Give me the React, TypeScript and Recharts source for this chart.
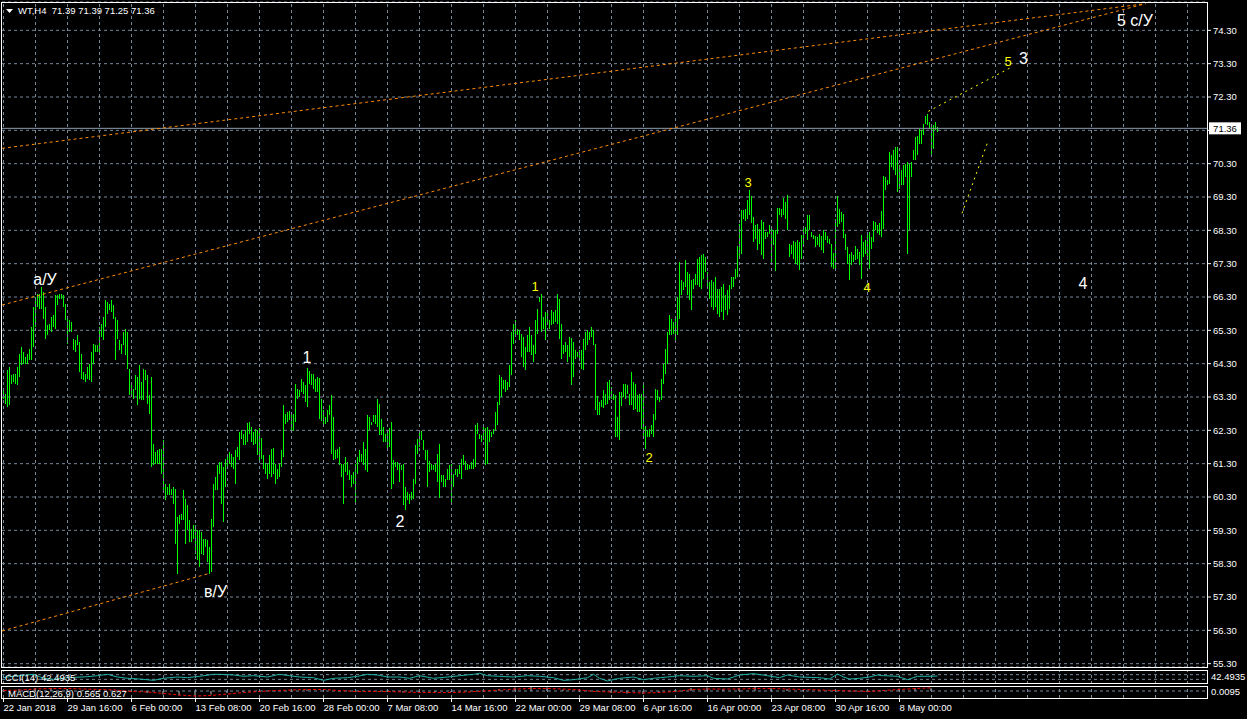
import React from 'react';
import { ComposedChart, Bar, Line, Scatter, XAxis, YAxis, CartesianGrid, ReferenceLine } from 'recharts';

const FONT = '"Liberation Sans", Arial, sans-serif';
const GRID = '#778899';
const BAR = '#00ff00';

// H4 bar highs and lows, one entry per bar
const highs = [
  63.55, 63.40, 64.10, 64.20, 63.95, 64.00, 64.00, 64.20, 64.60, 64.80,
  64.65, 64.50, 64.60, 64.75, 65.40, 66.00, 66.30, 66.40, 66.40, 66.60,
  66.45, 66.00, 65.45, 65.50, 65.70, 65.75, 66.35, 66.35, 66.40, 66.40,
  66.35, 66.10, 65.65, 65.60, 65.55, 65.05, 65.00, 65.15, 64.95, 64.60,
  64.05, 64.00, 64.20, 64.30, 64.65, 64.90, 64.85, 64.85, 65.40, 65.50,
  65.70, 66.20, 66.15, 66.10, 66.20, 66.05, 65.70, 65.60, 65.00, 64.90,
  65.25, 65.35, 65.25, 64.15, 63.65, 63.55, 63.95, 63.90, 64.25, 63.75,
  64.15, 64.10, 63.95, 63.35, 63.90, 61.90, 61.65, 61.70, 61.75, 61.75,
  62.00, 60.70, 60.60, 60.70, 60.55, 60.60, 60.55, 59.70, 59.75, 59.80,
  60.50, 60.25, 60.05, 59.60, 59.35, 59.45, 59.45, 59.30, 59.30, 59.25,
  59.05, 59.05, 59.00, 58.80, 59.65, 60.70, 60.90, 61.25, 61.35, 61.35,
  61.20, 61.45, 61.60, 61.65, 61.60, 61.50, 61.70, 61.80, 62.25,
  62.32, 62.20, 62.30, 62.52, 62.55, 62.40, 62.25, 62.35, 62.30, 62.38,
  62.08, 61.55, 61.32, 61.30, 61.55, 61.75, 61.78, 61.30, 61.15, 61.30,
  61.70, 63.05, 62.80, 62.85, 62.88, 62.80, 62.78, 63.68, 63.55, 63.52,
  63.85, 63.75, 63.65, 64.18, 64.08, 64.00, 63.98, 63.85, 63.90, 63.88,
  63.25, 62.90, 62.70, 62.90, 63.05, 63.35, 62.70, 61.72, 61.75, 61.80,
  61.30, 61.30, 61.50, 61.35, 61.10, 60.95, 61.05, 61.30, 61.50, 61.70,
  61.60, 61.95, 61.75, 62.75, 62.70, 62.55, 62.75, 62.75, 63.25, 63.08,
  62.65, 62.40, 62.20, 62.30, 62.38, 62.55, 61.40, 61.35, 61.35, 61.30,
  61.25, 61.30, 60.60, 60.45, 60.40, 60.45, 60.85, 61.85, 62.05, 62.25,
  62.28, 62.00, 61.70, 61.70, 61.38, 61.30, 61.25, 61.30, 61.58, 61.90,
  60.95, 60.95, 60.85, 61.15, 61.25, 61.28, 61.00, 61.15, 61.15, 61.25,
  61.45, 61.55, 61.38, 61.30, 61.25,
  61.35, 61.45, 62.45, 62.52, 62.20, 62.15, 62.40, 62.38, 62.40, 62.32,
  62.25, 62.35, 62.85, 63.15, 63.95, 63.90, 63.80, 63.80, 63.75, 64.25,
  65.25, 65.50, 65.60, 65.35, 65.30, 65.20, 65.10, 64.80, 65.15, 65.40,
  65.15, 64.85, 65.60, 65.95, 66.30, 66.38, 65.70, 65.85, 65.85, 65.60,
  65.90, 65.85, 65.90, 66.38, 66.25, 65.48, 64.85, 64.95, 64.85, 65.10,
  65.08, 64.95, 64.70, 64.65, 64.70, 64.70, 65.05, 65.25, 65.30, 65.25,
  65.40, 65.30, 64.88, 63.32, 63.15, 63.22, 63.52, 63.40, 63.75, 63.80,
  63.60, 63.38, 63.35, 62.70, 63.45, 63.45, 63.70, 63.70, 63.65, 63.40,
  64.05, 63.75, 63.70, 63.35, 63.38, 63.40, 63.65, 62.42, 62.30, 62.35,
  62.45, 62.80, 63.55, 63.52, 63.30, 63.85, 64.30, 64.75, 65.25, 65.75,
  65.65, 65.55, 65.65, 66.30, 67.35, 66.80, 66.75, 67.40, 67.05, 67.00,
  66.80, 66.85, 67.00, 67.45, 67.50,
  67.55, 67.58, 67.50, 67.05, 66.75, 66.80, 66.75, 66.90, 66.55, 66.55,
  66.60, 66.70, 66.35, 66.50, 66.65, 66.90, 66.90, 67.15, 67.82, 68.48,
  68.90, 68.90, 68.95, 69.22, 69.52, 69.32, 68.70, 68.45, 68.48, 68.35,
  68.62, 68.55, 68.25, 68.25, 68.45, 68.40, 68.30, 68.30, 68.98, 68.98,
  68.95, 69.28, 69.15, 69.35, 67.90, 67.85, 67.98, 67.95, 68.00, 67.95,
  68.15, 68.42, 68.40, 68.75, 68.75, 68.25, 68.15, 68.12, 68.10, 68.20,
  68.12, 68.32, 68.25, 68.12, 68.05, 67.90, 67.62, 68.65, 69.32, 68.95,
  68.85, 68.80, 68.18, 67.80, 67.60, 67.65, 67.55, 67.82, 67.75, 67.65,
  68.15, 67.95, 68.00, 68.20, 68.25, 68.10, 68.58, 68.55, 68.45, 68.52,
  68.88, 69.92, 69.90, 69.82, 70.65, 70.55, 70.72, 70.80, 70.80, 70.25,
  70.10, 70.25, 70.30, 70.35, 70.30, 70.35, 70.70, 71.10, 71.12, 71.35,
  71.30, 71.50, 71.72, 71.80, 71.55, 71.50, 71.45, 71.55, 71.39,
];

const lows = [
  63.25, 63.10, 63.00, 63.05, 63.70, 63.75, 63.70, 63.65, 63.90, 64.25,
  64.30, 64.30, 64.30, 64.40, 64.40, 64.80, 65.40, 66.00, 65.95, 65.95,
  65.65, 65.05, 65.15, 65.30, 65.25, 65.40, 65.35, 66.05, 66.25, 66.25,
  66.00, 65.60, 64.90, 65.25, 65.25, 64.70, 64.65, 64.85, 64.05, 63.85,
  63.80, 63.75, 63.85, 63.80, 63.75, 64.30, 64.65, 64.65, 64.65, 65.10,
  65.00, 65.40, 65.80, 65.90, 65.85, 65.65, 64.40, 65.05, 64.70, 64.60,
  64.85, 64.55, 64.15, 63.35, 63.40, 63.25, 63.50, 63.05, 63.25, 63.20,
  63.20, 63.80, 63.10, 62.80, 61.20, 61.25, 61.30, 61.30, 61.30, 61.00,
  60.50, 60.20, 60.35, 60.35, 60.35, 60.10, 58.90, 58.00, 59.50, 59.60,
  59.60, 58.90, 59.30, 58.95, 58.95, 59.05, 58.60, 58.40, 58.20, 58.60,
  58.55, 58.80, 58.35, 58.00, 58.05, 59.40, 60.50, 60.50, 61.00, 60.10,
  59.55, 60.60, 61.15, 61.30, 61.20, 61.15, 60.70, 61.50, 61.40,
  62.05, 61.85, 61.85, 61.95, 62.20, 61.95, 61.85, 61.90, 61.55, 61.40,
  61.45, 61.15, 61.00, 60.85, 61.00, 60.90, 61.00, 60.70, 60.85, 60.90,
  61.20, 61.50, 62.50, 62.55, 62.60, 62.30, 62.28, 62.55, 63.25, 63.30,
  63.45, 63.40, 63.15, 63.00, 63.70, 63.65, 63.55, 63.45, 63.45, 62.65,
  62.58, 62.50, 62.50, 62.55, 62.75, 61.60, 61.40, 61.45, 61.48, 61.25,
  60.90, 60.10, 61.05, 60.95, 60.80, 60.60, 60.70, 60.10, 61.00, 61.35,
  61.35, 61.25, 61.10, 61.05, 62.30, 62.45, 62.55, 62.50, 62.40, 62.15,
  62.15, 61.95, 61.95, 61.75, 61.80, 60.55, 60.70, 61.20, 61.10, 60.75,
  61.10, 60.05, 59.92, 60.20, 60.10, 60.20, 60.25, 60.70, 61.60, 61.80,
  62.00, 61.70, 61.40, 60.60, 61.05, 61.10, 61.10, 61.05, 60.75, 60.28,
  60.75, 60.60, 60.60, 60.80, 60.80, 60.15, 60.60, 60.95, 60.90, 61.00,
  60.85, 61.25, 61.12, 61.10, 61.15,
  61.15, 61.15, 61.20, 62.20, 62.05, 61.95, 62.00, 61.25, 61.30, 61.95,
  62.10, 62.20, 62.30, 62.45, 63.05, 63.30, 63.55, 63.45, 63.50, 63.60,
  63.95, 64.90, 65.20, 65.15, 65.00, 64.50, 64.20, 64.10, 64.65, 64.65,
  64.55, 64.35, 64.60, 65.20, 66.15, 65.25, 65.35, 65.00, 65.45, 65.35,
  65.45, 65.50, 65.55, 65.50, 65.05, 64.45, 64.60, 64.65, 64.35, 64.50,
  63.65, 63.90, 64.45, 64.50, 64.45, 64.15, 64.10, 64.70, 64.85, 65.00,
  65.10, 64.85, 62.90, 62.75, 62.75, 63.00, 62.98, 63.05, 63.10, 63.20,
  63.25, 63.20, 62.10, 62.10, 62.00, 63.02, 63.30, 63.25, 63.40, 63.05,
  63.05, 62.90, 62.95, 62.85, 62.85, 62.35, 62.05, 61.75, 62.10, 62.10,
  62.20, 62.10, 62.60, 63.20, 63.15, 63.20, 63.70, 64.00, 64.30, 65.15,
  65.15, 65.20, 65.00, 65.15, 65.65, 66.35, 66.50, 66.60, 66.35, 66.20,
  65.90, 66.55, 66.65, 66.65, 66.60,
  66.55, 66.85, 67.05, 66.60, 66.25, 66.00, 65.90, 66.00, 65.80, 65.70,
  65.85, 65.60, 65.90, 65.75, 65.95, 66.55, 66.60, 66.85, 66.90, 67.50,
  67.60, 68.65, 68.58, 68.65, 68.75, 68.52, 67.95, 68.05, 67.72, 67.90,
  67.55, 67.45, 68.05, 68.10, 68.20, 67.25, 67.85, 67.08, 68.20, 68.75,
  68.70, 68.75, 68.65, 68.30, 67.50, 67.60, 67.45, 67.30, 67.25, 67.10,
  67.45, 67.90, 68.20, 68.00, 68.30, 68.10, 68.05, 67.80, 67.85, 67.80,
  67.70, 67.62, 68.00, 67.92, 67.90, 67.20, 67.15, 67.15, 68.40, 68.50,
  68.55, 68.08, 67.70, 67.30, 66.80, 67.25, 67.35, 67.40, 67.45, 67.25,
  66.85, 67.50, 67.60, 67.40, 67.15, 67.75, 67.95, 68.32, 68.22, 68.15,
  68.10, 68.35, 69.50, 69.65, 69.70, 70.20, 70.10, 69.95, 69.45, 69.55,
  69.65, 69.65, 69.90, 67.60, 68.30, 69.90, 70.40, 70.40, 70.55, 70.90,
  70.88, 71.15, 71.48, 71.45, 71.35, 70.50, 70.75, 71.30, 71.25,
];

const lastPrice = 71.36;

const priceTicks = [
  55.3, 56.3, 57.3, 58.3, 59.3, 60.3, 61.3, 62.3, 63.3, 64.3,
  65.3, 66.3, 67.3, 68.3, 69.3, 70.3, 71.3, 72.3, 73.3, 74.3,
];

const dateTicks = [0, 32, 64, 96, 128, 160, 192, 224, 256, 288, 320, 352, 384, 416, 448];
const dateLabels = [
  '22 Jan 2018', '29 Jan 16:00', '6 Feb 00:00', '13 Feb 08:00', '20 Feb 16:00',
  '28 Feb 00:00', '7 Mar 08:00', '14 Mar 16:00', '22 Mar 00:00', '29 Mar 08:00',
  '6 Apr 16:00', '16 Apr 00:00', '23 Apr 08:00', '30 Apr 16:00', '8 May 00:00',
];

const gridIdx = [
  0, 16, 32, 48, 64, 80, 96, 112, 128, 144, 160, 176, 192, 208, 224, 240, 256, 272, 288,
  304, 320, 336, 352, 368, 384, 400, 416, 432, 448, 464, 480, 496, 512, 528, 544, 560, 576, 592,
];

// CCI(14) readings at sampled bars
const cciIdx = [
  0, 3, 8, 15, 20, 25, 32, 42, 47, 52, 57, 62, 68, 75, 80, 87, 92, 98, 105, 108,
  115, 120, 125, 132, 138, 143, 148, 155, 160, 165, 172, 177, 182, 187, 192, 198, 203, 208, 215, 222,
  228, 235, 238, 242, 248, 255, 262, 268, 275, 280, 285, 292, 295, 298, 302, 308, 315, 320, 325, 332,
  338, 345, 352, 355, 362, 368, 375, 382, 388, 392, 398, 408, 413, 417, 420, 423, 428, 433, 437, 440,
  447, 452, 457, 462, 467,
];
const cciVal = [
  -30, 13, 56, 115, -56, -100, -30, 13, 56, 115, 0, -56, -86, -143, -56, 0, -30, 30, 115, 115,
  86, 30, 56, 0, 115, 56, 0, -30, -143, -56, -30, 30, 115, 86, 0, 0, -56, 56, -56, 0,
  56, 115, 160, 56, 30, 0, 56, 30, -30, -143, -115, -30, 115, -56, -170, -56, 0, -115, -56, 0,
  56, 30, 56, -56, -86, 86, 143, 56, -30, 86, 0, -30, -86, 130, 0, -86, -56, 0, 86, 56,
  30, -115, 30, 30, 42,
];

// MACD(12,26,9) histogram and signal at sampled bars
const macdIdx = [
  0, 8, 16, 24, 32, 40, 48, 56, 64, 72, 80, 88, 96, 104, 112, 120, 128, 136, 144, 152,
  160, 168, 176, 184, 192, 200, 208, 216, 224, 232, 240, 248, 256, 264, 272, 280, 288, 296, 304, 312,
  320, 328, 336, 344, 352, 360, 368, 376, 384, 392, 400, 408, 416, 424, 432, 440, 448, 456, 464,
];
const macdHist = [
  0.2, 0.4, 0.6, 0.6, 0.4, 0.2, 0.1, 0.1, -0.2, -0.4, -0.7, -0.9, -0.9, -0.7, -0.4, -0.2, -0.1, -0.1, 0.1, 0.3,
  0.1, -0.1, -0.2, 0.0, -0.1, -0.3, -0.3, -0.2, -0.2, 0.0, 0.1, 0.4, 0.7, 0.8, 0.7, 0.3, 0.1, -0.1, -0.4, -0.5,
  -0.6, -0.3, 0.2, 0.6, 0.7, 0.4, 0.6, 0.8, 0.6, 0.4, 0.2, 0.1, 0.0, -0.1, -0.1, 0.2, 0.5, 0.6, 0.57,
];
const macdSig = [
  0.1, 0.2, 0.4, 0.5, 0.5, 0.4, 0.3, 0.2, -0.1, -0.2, -0.5, -0.8, -1.0, -0.9, -0.6, -0.3, -0.1, 0.1, 0.2, 0.3,
  0.3, 0.1, -0.1, -0.1, -0.1, -0.2, -0.3, -0.3, -0.3, -0.2, 0.0, 0.2, 0.4, 0.5, 0.5, 0.4, 0.2, -0.1, -0.2, -0.3,
  -0.4, -0.3, -0.1, 0.3, 0.4, 0.4, 0.4, 0.5, 0.5, 0.4, 0.3, 0.2, 0.1, 0.0, -0.1, 0.1, 0.3, 0.5, 0.63,
];

// wave labels: text, bar index, price, degree
const waveText = ['а/У', 'в/У', '1', '2', '1', '2', '3', '4', '5', '3', '4', '5 с/У'];
const waveIdx = [20.75, 106, 151.75, 198.25, 265.75, 322.75, 372.25, 431.75, 502.25, 510, 539.75, 565.75];
const wavePrice = [66.83, 57.47, 64.48, 59.57, 66.62, 61.49, 69.74, 66.59, 73.37, 73.45, 66.71, 74.6];
const waveKind = ['major', 'major', 'major', 'major', 'minor', 'minor', 'minor', 'minor', 'minor', 'major', 'major', 'major'];

// trend lines as [bar index, price] pairs
const channelTop = [[-0.7, 70.76], [571, 75.10]];
const channelMid = [[-0.7, 66.06], [571, 75.10]];
const channelLow = [[-0.7, 56.28], [103, 58.01]];
const projUp = [[462.4, 71.87], [504.75, 73.22]];
const projDown = [[479.25, 68.81], [492.4, 71.0]];

const XDOM = [-0.75, 601.75];

const bars = highs.map((h, i) => ({ i, hl: [lows[i], h] }));
const cciData = cciIdx.map((i, k) => ({ i, v: cciVal[k] }));
const macdData = macdIdx.map((i, k) => ({ i, h: macdHist[k], s: macdSig[k] }));
const waves = waveText.map((t, k) => ({ i: waveIdx[k], p: wavePrice[k], t, kind: waveKind[k] }));

const seg = (pts: number[][]) => [{ x: pts[0][0], y: pts[0][1] }, { x: pts[1][0], y: pts[1][1] }];

// one crisp 1px column per bar
const BarStick = (p: any) => {
  if (p.x == null || p.height == null) return <g />;
  const cx = Math.floor(p.x + p.width / 2);
  const top = Math.round(p.y);
  const h = Math.max(1, Math.round(p.y + p.height) - top);
  return <rect x={cx} y={top} width={1} height={h} fill={BAR} stroke="none" shapeRendering="crispEdges" />;
};

const PriceTick = (p: any) => {
  const v = p.payload.value;
  if (Math.abs(v - 71.3) < 0.01) return <g />;
  return (
    <text x={p.x} y={p.y} dy="0.355em" textAnchor="start" fill="#fff" fontSize={9.5} fontFamily={FONT}>
      {v.toFixed(2)}
    </text>
  );
};

const DateTick = (p: any) => {
  const k = dateTicks.indexOf(p.payload.value);
  return (
    <text x={p.x} y={p.y} dy="0.71em" textAnchor="start" fill="#fff" fontSize={9.5} fontFamily={FONT}>
      {dateLabels[k]}
    </text>
  );
};

const PriceTag = (lp: any) => {
  const vb = lp.viewBox || lp;
  const x = vb.x + vb.width + 2;
  const y = vb.y;
  return (
    <g>
      <rect x={x} y={y - 6} width={32} height={12} fill="#fff" />
      <text x={x + 16} y={y} dy="0.355em" textAnchor="middle" fill="#000" fontSize={9.5} fontFamily={FONT}>
        {lastPrice.toFixed(2)}
      </text>
    </g>
  );
};

const WaveMark = (props: any) => {
  const { cx, cy, payload } = props;
  const major = payload.kind === 'major';
  const size = major ? 16 : 13;
  return (
    <text x={cx} y={cy + size * 0.36} textAnchor="middle" fill={major ? '#ffffff' : '#ffff00'} fontSize={size} fontFamily={FONT}>
      {payload.t}
    </text>
  );
};

const vGrid = gridIdx.map((g) => (
  <ReferenceLine key={'g' + g} x={g} stroke={GRID} strokeDasharray="3 3" />
));

export default function App() {
  return (
    <div style={{ position: 'absolute', left: 0, top: 0, width: 1247, height: 719, background: '#000', overflow: 'hidden' }}>
      <div style={{ position: 'absolute', left: 0, top: 0 }}>
        <ComposedChart width={1247} height={668} data={bars} margin={{ top: 2, right: 0, bottom: 1, left: 2 }}>
          <XAxis type="number" dataKey="i" domain={XDOM} allowDataOverflow hide />
          <YAxis
            orientation="right"
            width={40}
            domain={[55.2, 75.15]}
            allowDataOverflow
            ticks={priceTicks}
            interval={0}
            axisLine={false}
            tickLine={{ stroke: '#fff' }}
            tickSize={4}
            tick={<PriceTick />}
          />
          <CartesianGrid vertical={false} stroke={GRID} strokeDasharray="3 3" />
          {vGrid}
          <ReferenceLine y={lastPrice} stroke="#8c9db0" label={(lp: any) => <PriceTag {...lp} />} />
          <ReferenceLine segment={seg(channelTop)} ifOverflow="visible" stroke="#ff8c00" strokeDasharray="3 3" />
          <ReferenceLine segment={seg(channelMid)} ifOverflow="visible" stroke="#ff8c00" strokeDasharray="3 3" />
          <ReferenceLine segment={seg(channelLow)} ifOverflow="visible" stroke="#ff8c00" strokeDasharray="3 3" />
          <ReferenceLine segment={seg(projUp)} ifOverflow="visible" stroke="#ffff00" strokeDasharray="2 4" />
          <ReferenceLine segment={seg(projDown)} ifOverflow="visible" stroke="#ffff00" strokeDasharray="2 4" />
          <Bar dataKey="hl" fill={BAR} stroke="none" barSize={1} shape={BarStick} isAnimationActive={false} />
          <Scatter data={waves} dataKey="p" shape={WaveMark} isAnimationActive={false} />
        </ComposedChart>
      </div>

      <div style={{ position: 'absolute', left: 0, top: 670 }}>
        <ComposedChart width={1247} height={14} data={cciData} margin={{ top: 0, right: 40, bottom: 0, left: 2 }}>
          <XAxis type="number" dataKey="i" domain={XDOM} allowDataOverflow hide />
          <YAxis domain={[-300, 300]} allowDataOverflow hide />
          {vGrid}
          <ReferenceLine y={100} stroke={GRID} strokeDasharray="3 3" />
          <ReferenceLine y={-100} stroke={GRID} strokeDasharray="3 3" />
          <Line dataKey="v" type="linear" stroke="#20b2aa" strokeWidth={1} dot={false} isAnimationActive={false} />
        </ComposedChart>
      </div>

      <div style={{ position: 'absolute', left: 0, top: 686 }}>
        <ComposedChart width={1247} height={33} data={macdData} margin={{ top: 0, right: 40, bottom: 0, left: 2 }}>
          <XAxis
            type="number"
            dataKey="i"
            domain={XDOM}
            allowDataOverflow
            ticks={dateTicks}
            interval={0}
            height={21}
            axisLine={false}
            tickLine={{ stroke: '#fff' }}
            tickSize={4}
            tick={<DateTick />}
          />
          <YAxis domain={[-1.4, 1.0]} allowDataOverflow hide />
          {vGrid}
          <ReferenceLine y={0} stroke={GRID} strokeDasharray="3 3" />
          <Bar dataKey="h" fill="#c0c0c0" barSize={1} isAnimationActive={false} />
          <Line dataKey="s" type="linear" stroke="#ff0000" strokeDasharray="3 2" dot={false} isAnimationActive={false} />
        </ComposedChart>
      </div>

      <svg width={1247} height={719} style={{ position: 'absolute', left: 0, top: 0, pointerEvents: 'none' }}>
        <rect x={1.5} y={2.5} width={1206} height={665} fill="none" stroke="#fff" />
        <rect x={1.5} y={670.5} width={1206} height={13} fill="none" stroke="#fff" />
        <rect x={1.5} y={686.5} width={1206} height={12} fill="none" stroke="#fff" />
        <polygon points="6,9 13,9 9.5,13" fill="#fff" />
        <text x={18} y={14} fill="#fff" fontSize={9.5} fontFamily={FONT}>
          {'WT,H4\u00a0\u00a071.39 71.39 71.25 71.36'}
        </text>
        <text x={5} y={681} fill="#fff" fontSize={9.5} fontFamily={FONT}>CCI(14) 42.4935</text>
        <text x={8} y={697} fill="#fff" fontSize={9.5} fontFamily={FONT}>MACD(12,26,9) 0.565 0.627</text>
        <text x={1211} y={680} fill="#fff" fontSize={9.5} fontFamily={FONT}>42.4935</text>
        <text x={1211} y={695} fill="#fff" fontSize={9.5} fontFamily={FONT}>0.0095</text>
      </svg>
    </div>
  );
}
